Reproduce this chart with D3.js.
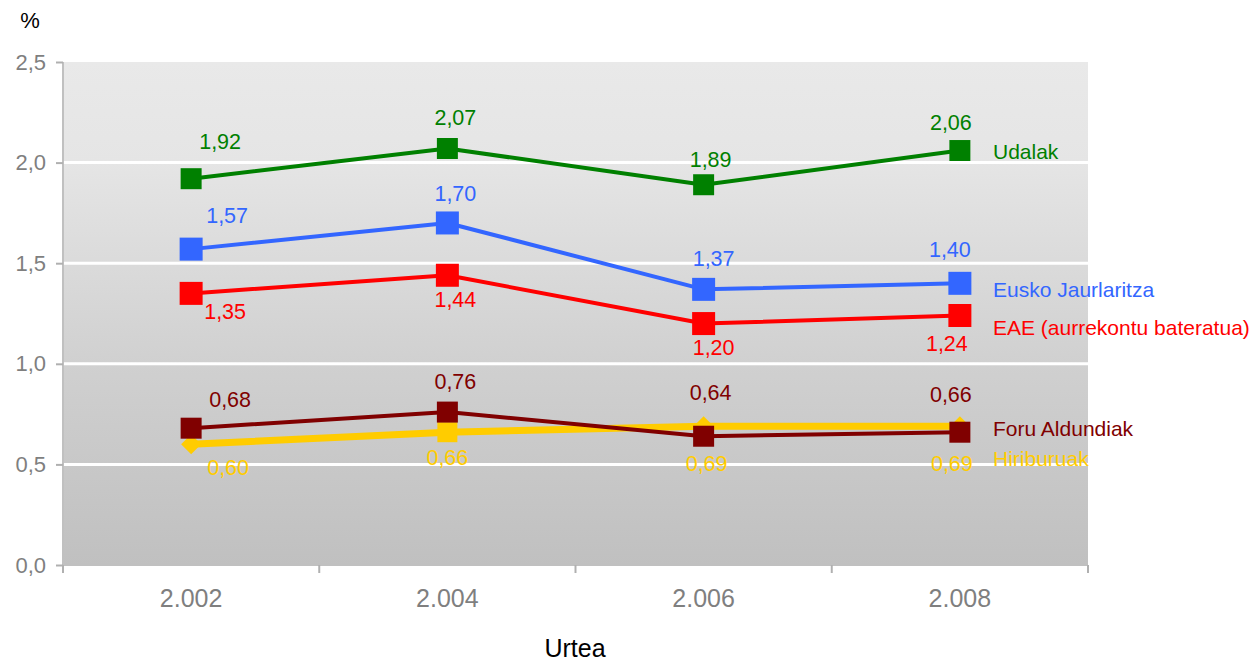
<!DOCTYPE html>
<html><head><meta charset="utf-8">
<script src="https://cdn.jsdelivr.net/npm/d3@7/dist/d3.min.js"></script>
<style>body{margin:0;background:#fff}svg{display:block;font-family:"Liberation Sans",Arial,sans-serif}</style>
</head><body><svg id="c" width="1258" height="661"></svg>
<script>
const years = ["2.002","2.004","2.006","2.008"];
const yTicks = [0,0.5,1.0,1.5,2.0,2.5];
const seriesNames = ["Hiriburuak","Foru Aldundiak","EAE (aurrekontu bateratua)","Eusko Jaurlaritza","Udalak"];
const hiriburuak = [0.60,0.66,0.69,0.69];
const foruAldundiak = [0.68,0.76,0.64,0.66];
const eae = [1.35,1.44,1.20,1.24];
const euskoJaurlaritza = [1.57,1.70,1.37,1.40];
const udalak = [1.92,2.07,1.89,2.06];
const values = [hiriburuak, foruAldundiak, eae, euskoJaurlaritza, udalak];

// styles / layout (not data)
const colors = ["#ffcc00","#800000","#ff0000","#3366ff","#008000"];
const lineW = [7,4,4,4,4];
const markSize = [20,21,23,23,21];
const hiriShapes = ["diamond","square","diamond","diamond"];
const labelOff = [
  [[37,24],[0,26],[3,38],[-8,38]],
  [[39,-28],[8,-30],[7,-43],[-9,-37]],
  [[34,19],[8,25],[10,24],[-13,28]],
  [[36,-33],[8,-29],[10,-30],[-10,-33]],
  [[29,-37],[8,-31],[7,-25],[-9,-28]]
];
const legendDy = [32,-4,12,6,1];

const svg = d3.select("#c");
const L=63,R=1088,T=62,B=565;
const x = d3.scaleBand().domain(years).range([L,R]);
const y = d3.scaleLinear().domain([0,2.5]).range([B,T]);
const fmt = v => d3.format(".2f")(v).replace(".",",");

const defs = svg.append("defs");
const g = defs.append("linearGradient").attr("id","bg").attr("x1",0).attr("y1",0).attr("x2",0).attr("y2",1);
[[0,"#e9e9e9"],[0.2,"#e5e5e5"],[0.6,"#d0d0d0"],[1,"#c0c0c0"]].forEach(s=>g.append("stop").attr("offset",s[0]).attr("stop-color",s[1]));
svg.append("rect").attr("x",L).attr("y",T).attr("width",R-L).attr("height",B-T).attr("fill","url(#bg)");

// gridlines
svg.append("g").selectAll("line").data(yTicks.filter(d=>d>0&&d<2.5)).join("line")
  .attr("x1",L).attr("x2",R).attr("y1",d=>y(d)).attr("y2",d=>y(d))
  .attr("stroke","#fff").attr("stroke-width",3);

// y axis
const ya = svg.append("g").attr("transform",`translate(${L},0)`)
  .call(d3.axisLeft(y).tickValues(yTicks).tickSize(7).tickPadding(10).tickFormat(d=>d3.format(".1f")(d).replace(".",",")));
ya.select(".domain").attr("stroke","#c0c0c0").attr("stroke-width",2).attr("d",`M0,${T}V${B+8}`);
ya.selectAll(".tick line").attr("stroke","#b0b0b0").attr("stroke-width",2);
ya.selectAll("text").attr("fill","#7f7f7f").attr("font-size",22).attr("font-family","Liberation Sans, Arial");

// x axis
const xa = svg.append("g").attr("transform",`translate(0,${B})`)
  .call(d3.axisBottom(x).tickSize(0).tickPadding(24));
xa.select(".domain").attr("stroke","#c0c0c0").attr("stroke-width",2).attr("d",`M${L},0H${R}`);
xa.selectAll("text").attr("fill","#7f7f7f").attr("font-size",25).attr("font-family","Liberation Sans, Arial");
const bounds = years.map(d=>x(d)).concat([R]);
svg.append("g").selectAll("line").data(bounds).join("line")
  .attr("x1",d=>d).attr("x2",d=>d).attr("y1",B).attr("y2",B+8)
  .attr("stroke","#b0b0b0").attr("stroke-width",2);

const cx = d => x(d)+x.bandwidth()/2;
const line = d3.line().x(d=>cx(d.year)).y(d=>y(d.v));

seriesNames.forEach((name,i)=>{
  const pts = years.map((yr,j)=>({year:yr,v:values[i][j],j}));
  const gs = svg.append("g");
  gs.append("path").datum(pts).attr("d",line).attr("fill","none")
    .attr("stroke",colors[i]).attr("stroke-width",lineW[i]).attr("stroke-linejoin","round");
  gs.selectAll("path.m").data(pts).join("path").attr("class","m")
    .attr("transform",d=>`translate(${cx(d.year)},${y(d.v)})`)
    .attr("d",d=>{
      const s=markSize[i], h=s/2;
      const shape = i===0 ? hiriShapes[d.j] : "square";
      if(shape==="diamond") return `M0,${-h}L${h},0L0,${h}L${-h},0Z`;
      return `M${-h},${-h}H${h}V${h}H${-h}Z`;
    })
    .attr("fill",colors[i]);
});

// data labels
seriesNames.forEach((name,i)=>{
  svg.append("g").selectAll("text").data(values[i]).join("text")
    .attr("x",(v,j)=>cx(years[j])+labelOff[i][j][0])
    .attr("y",(v,j)=>y(v)+labelOff[i][j][1])
    .attr("text-anchor","middle").attr("dominant-baseline","central")
    .attr("font-size",21.5).attr("fill",colors[i]).text(v=>fmt(v));
  svg.append("text").attr("x",993).attr("y",y(values[i][3])+legendDy[i])
    .attr("dominant-baseline","central").attr("font-size",21).attr("fill",colors[i]).text(name);
});

svg.append("text").attr("x",30).attr("y",20).attr("text-anchor","middle").attr("dominant-baseline","central")
  .attr("font-size",22).attr("fill","#000").text("%");
svg.append("text").attr("x",575).attr("y",648).attr("text-anchor","middle").attr("dominant-baseline","central")
  .attr("font-size",25).attr("fill","#000").text("Urtea");
</script></body></html>
